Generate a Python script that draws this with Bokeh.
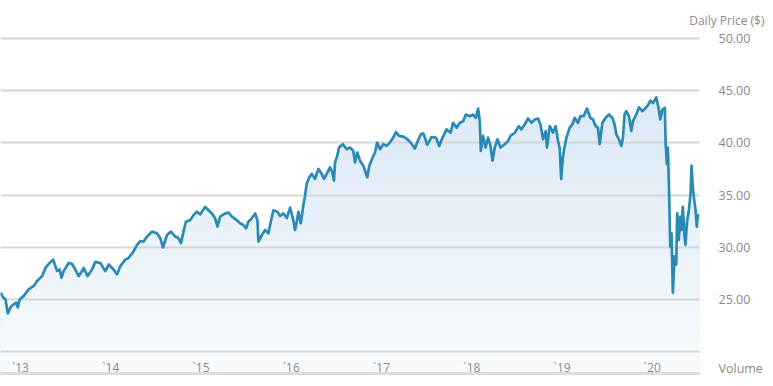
import numpy as np
from bokeh.plotting import figure
from bokeh.models import Range1d, FixedTicker, Title
from bokeh.embed import file_html
from bokeh.resources import INLINE

# ---- data (decimal years, daily price in $) ----
years = [2012.779, 2012.809, 2012.834, 2012.860, 2012.889, 2012.926, 2012.956, 2012.970, 2012.992,
         2013.037, 2013.092, 2013.147, 2013.185, 2013.240, 2013.277, 2013.313, 2013.362, 2013.387,
         2013.406, 2013.435, 2013.454, 2013.479, 2013.534, 2013.572, 2013.608, 2013.645, 2013.683,
         2013.700, 2013.744, 2013.793, 2013.830, 2013.885, 2013.940, 2013.977, 2014.032, 2014.070,
         2014.106, 2014.162, 2014.198, 2014.253, 2014.291, 2014.327, 2014.364, 2014.402, 2014.457,
         2014.512, 2014.549, 2014.579, 2014.623, 2014.667, 2014.715, 2014.751, 2014.778, 2014.806,
         2014.833, 2014.881, 2014.917, 2014.955, 2014.991, 2015.046, 2015.083, 2015.121, 2015.157,
         2015.183, 2015.212, 2015.268, 2015.304, 2015.342, 2015.397, 2015.434, 2015.470, 2015.500,
         2015.525, 2015.563, 2015.600, 2015.625, 2015.636, 2015.674, 2015.710, 2015.747, 2015.773,
         2015.802, 2015.846, 2015.876, 2015.913, 2015.950, 2015.987, 2016.023, 2016.042, 2016.061,
         2016.079, 2016.105, 2016.134, 2016.153, 2016.171, 2016.200, 2016.227, 2016.263, 2016.300,
         2016.337, 2016.363, 2016.393, 2016.429, 2016.455, 2016.473, 2016.485, 2016.510, 2016.529,
         2016.570, 2016.614, 2016.650, 2016.687, 2016.706, 2016.731, 2016.761, 2016.798, 2016.842,
         2016.864, 2016.902, 2016.927, 2016.952, 2016.982, 2017.019, 2017.056, 2017.093, 2017.129,
         2017.159, 2017.196, 2017.240, 2017.278, 2017.322, 2017.369, 2017.395, 2017.433, 2017.461,
         2017.480, 2017.506, 2017.554, 2017.602, 2017.638, 2017.676, 2017.720, 2017.764, 2017.793,
         2017.831, 2017.867, 2017.904, 2017.934, 2017.978, 2018.014, 2018.044, 2018.070, 2018.088,
         2018.100, 2018.125, 2018.152, 2018.180, 2018.207, 2018.229, 2018.254, 2018.284, 2018.317,
         2018.365, 2018.402, 2018.428, 2018.476, 2018.520, 2018.550, 2018.586, 2018.623, 2018.660,
         2018.697, 2018.733, 2018.760, 2018.789, 2018.819, 2018.833, 2018.863, 2018.899, 2018.929,
         2018.955, 2018.973, 2018.990, 2019.007, 2019.023, 2019.048, 2019.084, 2019.114, 2019.139,
         2019.176, 2019.202, 2019.239, 2019.275, 2019.313, 2019.342, 2019.372, 2019.397, 2019.416,
         2019.446, 2019.482, 2019.519, 2019.556, 2019.582, 2019.601, 2019.629, 2019.656, 2019.674,
         2019.692, 2019.711, 2019.740, 2019.767, 2019.784, 2019.822, 2019.851, 2019.888, 2019.925,
         2019.950, 2019.977, 2020.006, 2020.043, 2020.069, 2020.087, 2020.110, 2020.138, 2020.146,
         2020.160, 2020.172, 2020.183, 2020.198, 2020.212, 2020.227, 2020.246, 2020.264, 2020.275,
         2020.293, 2020.309, 2020.323, 2020.337, 2020.356, 2020.367, 2020.382, 2020.404, 2020.423,
         2020.434, 2020.448, 2020.464, 2020.478, 2020.492, 2020.503, 2020.522]

prices = [25.66, 25.20, 25.03, 23.67, 24.24, 24.56, 24.70, 24.24, 25.03,
          25.35, 25.98, 26.30, 26.77, 27.24, 28.03, 28.41, 28.82, 28.20,
          27.72, 27.87, 27.08, 27.72, 28.50, 28.41, 27.87, 27.24, 27.72,
          28.03, 27.24, 27.87, 28.60, 28.50, 27.72, 28.35, 27.87, 27.40,
          28.20, 28.82, 28.98, 29.61, 30.24, 30.60, 30.55, 31.03, 31.50,
          31.34, 30.87, 29.99, 31.18, 31.50, 31.03, 30.87, 30.40, 31.50,
          32.45, 32.60, 33.08, 33.40, 33.14, 33.87, 33.55, 33.24, 32.77,
          31.98, 32.93, 33.24, 33.33, 32.93, 32.60, 32.29, 32.13, 31.82,
          32.45, 32.77, 33.24, 32.60, 30.55, 31.18, 31.66, 31.34, 32.45,
          33.55, 33.40, 33.00, 33.24, 32.80, 33.80, 32.60, 31.66, 32.45,
          33.40, 32.29, 34.03, 34.97, 36.08, 36.71, 37.03, 36.55, 37.50,
          37.03, 36.55, 37.03, 37.66, 37.18, 36.39, 38.13, 38.76, 39.55,
          39.87, 39.39, 39.55, 39.23, 38.13, 39.08, 38.29, 37.81, 36.71,
          37.81, 38.60, 39.08, 40.03, 39.39, 39.87, 39.71, 40.03, 40.50,
          41.03, 40.66, 40.60, 40.41, 40.03, 39.46, 40.03, 40.80, 40.91,
          40.50, 39.80, 40.56, 40.50, 39.71, 40.50, 41.29, 40.97, 41.92,
          41.45, 41.92, 42.08, 42.71, 42.55, 42.71, 42.40, 43.28, 42.08,
          39.23, 40.66, 39.55, 40.50, 39.71, 38.29, 39.55, 40.34, 39.55,
          39.87, 40.18, 40.66, 40.97, 41.60, 41.29, 41.76, 42.33, 41.92,
          42.24, 42.33, 41.76, 40.34, 41.13, 39.55, 41.60, 40.97, 41.60,
          40.18, 39.50, 36.55, 38.50, 39.40, 40.50, 41.45, 41.76, 42.40,
          41.92, 42.55, 42.55, 43.28, 42.40, 42.24, 41.60, 41.45, 39.87,
          41.92, 42.40, 42.71, 42.40, 41.76, 40.82, 40.34, 39.71, 40.50,
          42.71, 43.03, 42.55, 41.13, 42.08, 42.71, 43.40, 43.03, 43.34,
          43.59, 44.03, 43.81, 44.35, 43.34, 42.24, 43.18, 43.34, 40.18,
          37.97, 39.55, 36.08, 30.08, 31.34, 25.66, 29.14, 28.35, 33.24,
          30.71, 32.93, 31.66, 33.87, 31.03, 30.24, 32.29, 33.55, 35.13,
          37.81, 35.77, 34.50, 33.55, 31.98, 33.08, 32.93]

tick_years = [2013, 2014, 2015, 2016, 2017, 2018, 2019, 2020]
tick_labels = ["`13", "`14", "`15", "`16", "`17", "`18", "`19", "`20"]
grid_ticks = [20, 25, 30, 35, 40, 45, 50]
price_ticks = [18.39, 25, 30, 35, 40, 45, 50]
price_labels = ["Volume", "25.00", "30.00", "35.00", "40.00", "45.00", "50.00"]
axis_title = "Daily Price ($)"

FONT = "Open Sans"
GRAY_TXT = "#8a8a8a"
LINE_C = "#2a8ab5"

Y0, Y1 = 17.917, 50.947
p = figure(width=765, height=378, output_backend="svg", toolbar_location=None,
           x_range=Range1d(2012.779, 2020.522), y_range=Range1d(Y0, Y1),
           y_axis_location="right", min_border_left=0, min_border_right=65,
           min_border_top=28, min_border_bottom=2)
p.outline_line_color = None
p.background_fill_color = "white"
p.border_fill_color = "white"

# gradient-like area fill (painter's order, top colour first)
pr = np.array(prices)
top_rgb = np.array([218, 233, 246])
bot_rgb = np.array([249, 252, 254])
edges = np.arange(45.0, 17.5, -0.5)
for b in edges:
    t = (b - Y0) / (45.0 - Y0)
    rgb = np.clip(bot_rgb + (top_rgb - bot_rgb) * t, 0, 255).astype(int)
    col = "#%02x%02x%02x" % tuple(rgb)
    p.varea(x=years, y1=Y0, y2=np.minimum(pr, b), fill_color=col, level="image")

p.line(years, prices, line_color=LINE_C, line_width=2.7, line_join="round")

# y axis (right)
ya = p.yaxis[0]
ya.ticker = FixedTicker(ticks=price_ticks)
ya.major_label_overrides = dict(zip(price_ticks, price_labels))
ya.axis_line_color = None
ya.major_tick_line_color = None
ya.minor_tick_line_color = None
ya.major_label_standoff = 13
ya.major_label_text_font = FONT
ya.major_label_text_font_size = "12.5px"
ya.major_label_text_color = GRAY_TXT
p.ygrid.ticker = FixedTicker(ticks=grid_ticks)
p.ygrid.grid_line_color = "#d6d6d6"
p.ygrid.grid_line_width = 2

# x axis (below)
xa = p.xaxis[0]
xa.ticker = FixedTicker(ticks=tick_years)
xa.major_label_overrides = dict(zip(tick_years, tick_labels))
xa.axis_line_color = "#dcdcdc"
xa.axis_line_width = 3
xa.major_tick_line_color = None
xa.minor_tick_line_color = None
xa.major_label_standoff = -21
xa.major_label_text_font = FONT
xa.major_label_text_font_size = "12px"
xa.major_label_text_color = GRAY_TXT
p.xgrid.grid_line_color = None

p.add_layout(Title(text=axis_title, align="right", offset=-65, standoff=0,
                   text_font=FONT, text_font_size="12px", text_font_style="normal",
                   text_color=GRAY_TXT), "above")

open("out.html", "w").write(file_html(p, INLINE))
